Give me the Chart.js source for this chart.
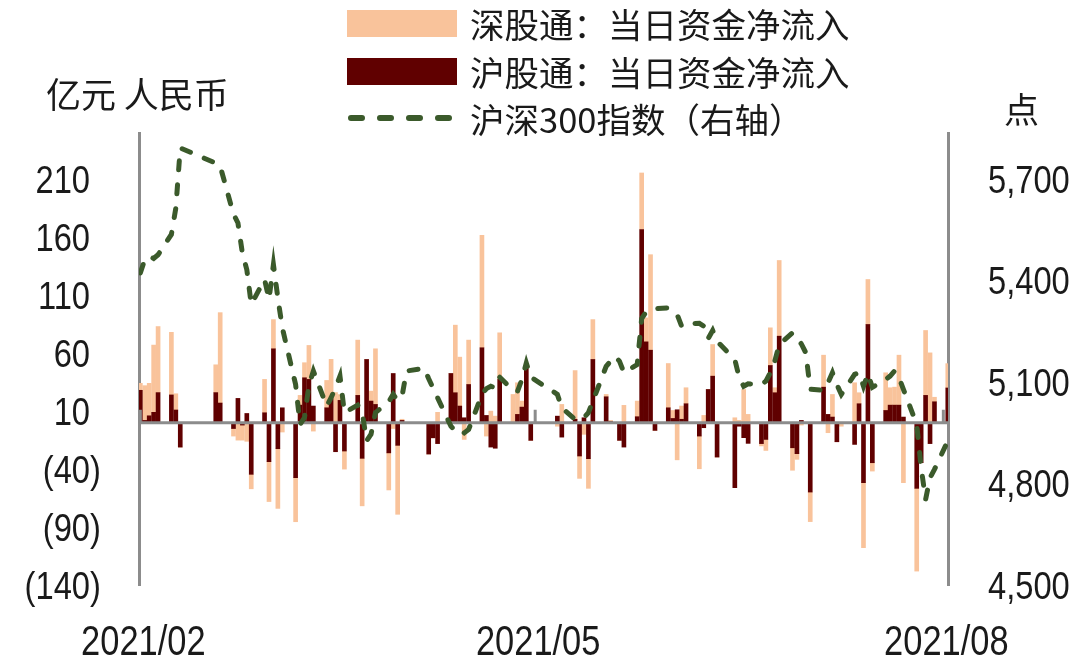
<!DOCTYPE html>
<html>
<head>
<meta charset="utf-8">
<script src="https://cdn.jsdelivr.net/npm/chart.js@4.4.1/dist/chart.umd.min.js"></script>
<style>
  body { margin: 0; background: #fff; }
  #wrap { position: relative; width: 1080px; height: 670px; background: #fff; }
  .cjk { font-family: "Noto Sans CJK SC", sans-serif; color: #1a1a1a; position: absolute; white-space: nowrap; }
  .legRow { position: absolute; left: 347px; display: flex; align-items: center; }
  .legRow span { margin-left: 13px; font-size: 34.5px; line-height: 36px; font-family: "Noto Sans CJK SC", sans-serif; color: #1a1a1a; white-space: nowrap; }
</style>
</head>
<body>
<div id="wrap">
  <canvas id="flowChart"></canvas>
  <div class="legRow" style="top:5px;height:36px;">
    <svg width="110" height="27"><rect width="110" height="27" fill="#F9C39B"/></svg>
    <span>深股通：当日资金净流入</span>
  </div>
  <div class="legRow" style="top:53px;height:36px;">
    <svg width="110" height="27"><rect width="110" height="27" fill="#600000"/></svg>
    <span>沪股通：当日资金净流入</span>
  </div>
  <div class="legRow" style="top:100px;height:36px;">
    <svg width="110" height="12"><line x1="4" y1="6" x2="106" y2="6" stroke="#3B5A2B" stroke-width="6" stroke-linecap="round" stroke-dasharray="11 18"/></svg>
    <span>沪深300指数（右轴）</span>
  </div>
  <div class="cjk" style="left:46px;top:75px;font-size:35px;line-height:36px;">亿元 人民币</div>
  <div class="cjk" style="left:1004px;top:90px;font-size:35px;line-height:36px;">点</div>
</div>
<script>
const YEAR = 2021;

// trading days (MM-DD)
const dates = [
  "02-01","02-02","02-03","02-04","02-05","02-08","02-09","02-10","02-18","02-19","02-22","02-23","02-24","02-25","02-26",
  "03-01","03-02","03-03","03-04","03-05","03-08","03-09","03-10","03-11","03-12","03-15","03-16","03-17","03-18","03-19","03-22","03-23","03-24","03-25","03-26","03-29","03-30","03-31",
  "04-01","04-02","04-06","04-07","04-08","04-09","04-12","04-13","04-14","04-15","04-16","04-19","04-20","04-21","04-22","04-23","04-26","04-27","04-28","04-29","04-30",
  "05-06","05-07","05-10","05-11","05-12","05-13","05-14","05-17","05-18","05-19","05-20","05-21","05-24","05-25","05-26","05-27","05-28","05-31",
  "06-01","06-02","06-03","06-04","06-07","06-08","06-09","06-10","06-11","06-15","06-16","06-17","06-18","06-21","06-22","06-23","06-24","06-25","06-28","06-29","06-30",
  "07-01","07-02","07-05","07-06","07-07","07-08","07-09","07-12","07-13","07-14","07-15","07-16","07-19","07-20","07-21","07-22","07-23","07-26","07-27","07-28","07-29","07-30",
  "08-02"
];

// 沪股通 net inflow (亿元)
const shFlow = [
  28, 2, 6, 9, 26, 24, 11, -21, 26, 17, -5, 21, -2, 8, -44.5,
  8.6, -33.6, 63.8, -22.4, 12.9, -47.4, 15.2, 38.8, 37.4, 14.4, 12.9, 20.7, -25, 19.3, -24.4, 23.6, -30.7, 54.6, 18.7, 15.8, -26, 42.5, -19.5,
  2, null, null, -27, -13, -18, 42.5, 25.9, 14.4, 4.3, 33, 64.7, 6.3, -21, -22, 37.4, 0, 7.2, 13.5, 46.8, -15.2,
  5.7, -12.4, 3, -28.7, 4.3, -31, 54.6, 22.4, 1, null, -15.2, -21, 5.2, 166.7, 69.8, 62.6, -6.6, 12.9,
  3.7, 11.2, 3, 16.4, -11.5, -4.3, 28.7, 40.2, -29.6, -56, -3, -12.9, -17.8, -18, -14.4, 49.4, 25.9, 74.7, -21.6, -26.7, 2,
  null, -59.8, 30.7, 7.2, 4.9, -16.4, 0, -18.7, 16.4, -51.7, 84.8, -34.5, 10.6, 15.2, 15.2, 15.2, 4.9, -56.6, -34.5, 23.6, -18, 18.1,
  30
];

// 深股通 net inflow (亿元)
const szFlow = [
  6, 30, 28, 58, 57, 54, 14, 0, 24, 78, -6.5, -15, -13, -16, -12.5,
  28.8, -34.4, 25.2, -51.5, -8, -38, 8.4, 13, 29.3, -7.2, 23.6, 34, 26, 5, -15.6, 47.7, -41, 0, 8.6, 48, -32, -5, -59.5,
  1, null, null, 0, 0, 9, 0, 58.3, 42.2, -14.4, 38.3, 97, -11.5, 10, 5.7, 40.2, 24.4, 27.3, 5.2, 0, 0,
  -3, 15.8, 42, -19.3, -10, -25.6, 34.4, 2, 1, null, 0, 15, 13.5, 48.8, 20.7, 82.4, 0, 38.2,
  6.9, -32, 11.4, 13.8, -28.2, 6.3, 0, 27.3, 0, 4.3, 2, 28.7, 7.2, -2, -9.5, 32.5, 4.3, 65.3, -19.4, -4.9, -2,
  null, -25.5, 27.6, -8.6, 19.5, 0, -3, 34.5, 9.5, -56.1, 38.8, -7.2, 32.5, 15, 15.5, 43.1, -51.7, -71.4, 0, 56, 60.3, 3.9,
  21
];

// 沪深300 close (点)
const csi300 = [
  5423, 5463, 5473, 5466, 5477, 5537, 5615, 5793, 5748, 5739, 5597, 5571, 5482, 5433, 5330,
  5404, 5345, 5448, 5349, 5261, 5093, 4975, 4995, 5091, 5133, 5029, 5054, 5083, 5118, 5010, 5032, 5012, 4926, 4946, 5010, 5042, 5064, 5046,
  5059, 5133, 5141, 5110, 5082, 5054, 4970, 4955, 4960, 4950, 4960, 5064, 5081, 5088, 5083, 5115, 5076, 5072, 5108, 5157, 5115,
  5064, 5024, 4990, 4995, 4995, 5010, 5044, 5147, 5162, 5177, 5162, 5128, 5152, 5288, 5308, 5315, 5317, 5320,
  5310, 5300, 5266, 5273, 5274, 5266, 5229, 5253, 5221, 5167, 5113, 5088, 5095, 5093, 5103, 5128, 5162, 5211, 5246, 5231, 5213,
  5187, 5079, 5076, 5098, 5128, 5093, 5064, 5123, 5128, 5088, 5125, 5085, 5108, 5118, 5133, 5113, 5079, 4975, 4847, 4753, 4817, 4842,
  4926
];

const leftTicks = [-140, -90, -40, 10, 60, 110, 160, 210];
const rightTicks = [4500, 4800, 5100, 5400, 5700];
const xTickLabels = ["2021/02", "2021/05", "2021/08"];

// day offset from 1 Feb
const base = Date.UTC(YEAR, 1, 1);
function dayOf(m, d) { return (Date.UTC(YEAR, m - 1, d) - base) / 86400000; }
const xs = dates.map(s => dayOf(+s.slice(0, 2), +s.slice(3)));
const xTickDays = xTickLabels.map(s => dayOf(+s.slice(5), 1));

const L_MIN = -140, L_MAX = 250, R_MIN = 4500;
const R_MAX = R_MIN + (L_MAX - L_MIN) * (5700 - 4500) / (210 - (-140));

const pts = arr => arr.map((v, i) => ({ x: xs[i], y: v }));

const labelFont = "'Liberation Sans', Arial, sans-serif";
const textColor = "#1a1a1a";
const axisGrey = "#8c8c8c";

// zero line + quarter tick marks, drawn just under the index line
const refLines = {
    id: "refLines",
    beforeDatasetDraw(chart, args) {
        if (args.index !== 2) return;
        const { ctx, chartArea, scales } = chart;
        const y0 = scales.y.getPixelForValue(0);
        ctx.save();
        ctx.strokeStyle = axisGrey;
        ctx.lineWidth = 3;
        ctx.beginPath();
        ctx.moveTo(chartArea.left, y0);
        ctx.lineTo(chartArea.right, y0);
        scales.x.ticks.forEach(t => {
            const x = scales.x.getPixelForValue(t.value);
            ctx.moveTo(x, y0);
            ctx.lineTo(x, y0 - 13);
        });
        ctx.stroke();
        ctx.restore();
    }
};

// narrow tick labels (the source uses a condensed face)
function narrowText(ctx, text, x, y, align, k) {
    ctx.save();
    ctx.translate(x, y);
    ctx.scale(k, 1);
    ctx.textAlign = align;
    ctx.fillText(text, 0, 0);
    ctx.restore();
}

const tickLabels = {
    id: "tickLabels",
    afterDraw(chart) {
        const { ctx, scales, chartArea } = chart;
        ctx.save();
        ctx.fillStyle = textColor;
        ctx.textBaseline = "alphabetic";

        ctx.font = "38px " + labelFont;
        const lx = chartArea.left - 49;
        scales.y.ticks.forEach(t => {
            const y = scales.y.getPixelForValue(t.value) + 13.6;
            if (t.value < 0) {
                narrowText(ctx, "(" + Math.abs(t.value), lx, y, "right", 0.86);
                narrowText(ctx, ")", lx, y, "left", 0.86);
            } else {
                narrowText(ctx, String(t.value), lx, y, "right", 0.86);
            }
        });

        const rx = chartArea.right + 40;
        scales.y2.ticks.forEach(t => {
            const y = scales.y2.getPixelForValue(t.value) + 13.6;
            narrowText(ctx, t.value.toLocaleString("en-US"), rx, y, "left", 0.86);
        });

        ctx.font = "42px " + labelFont;
        scales.x.ticks.forEach((t, i) => {
            const x = scales.x.getPixelForValue(t.value) + 3;
            narrowText(ctx, xTickLabels[i], x, 655, "center", 0.82);
        });
        ctx.restore();
    }
};

new Chart(document.getElementById("flowChart"), {
    type: "bar",
    data: {
        datasets: [{
            label: "沪股通：当日资金净流入",
            data: pts(shFlow),
            backgroundColor: "#600000",
            barThickness: 4,
            order: 1
        }, {
            label: "深股通：当日资金净流入",
            data: pts(szFlow),
            backgroundColor: "#F9C39B",
            barThickness: 4,
            order: 2
        }, {
            type: "line",
            label: "沪深300指数（右轴）",
            data: pts(csi300),
            yAxisID: "y2",
            borderColor: "#3B5A2B",
            borderWidth: 5,
            borderDash: [9, 15],
            borderCapStyle: "round",
            pointRadius: 0,
            tension: 0,
            spanGaps: true,
            order: 0
        }]
    },
    options: {
        responsive: true,
        maintainAspectRatio: false,
        animation: false,
        layout: { padding: { top: 133, left: 0, right: 0, bottom: 0 } },
        plugins: {
            legend: { display: false },
            tooltip: { enabled: false }
        },
        scales: {
            x: {
                type: "linear",
                stacked: true,
                offset: false,
                min: -0.3,
                max: 182.05,
                grid: { display: false },
                border: { display: false },
                afterBuildTicks: s => { s.ticks = xTickDays.map(v => ({ value: v })); },
                afterFit: s => { s.height = 85; },
                ticks: { display: false }
            },
            y: {
                stacked: true,
                min: L_MIN,
                max: L_MAX,
                grid: { display: false, drawTicks: false },
                border: { display: true, color: axisGrey, width: 3 },
                afterBuildTicks: s => { s.ticks = leftTicks.map(v => ({ value: v })); },
                afterFit: s => { s.width = 139; },
                ticks: { display: false }
            },
            y2: {
                position: "right",
                min: R_MIN,
                max: R_MAX,
                grid: { display: false, drawTicks: false },
                border: { display: true, color: axisGrey, width: 3 },
                afterBuildTicks: s => { s.ticks = rightTicks.map(v => ({ value: v })); },
                afterFit: s => { s.width = 132; },
                ticks: { display: false }
            }
        }
    },
    plugins: [refLines, tickLabels]
});
</script>
</body>
</html>
